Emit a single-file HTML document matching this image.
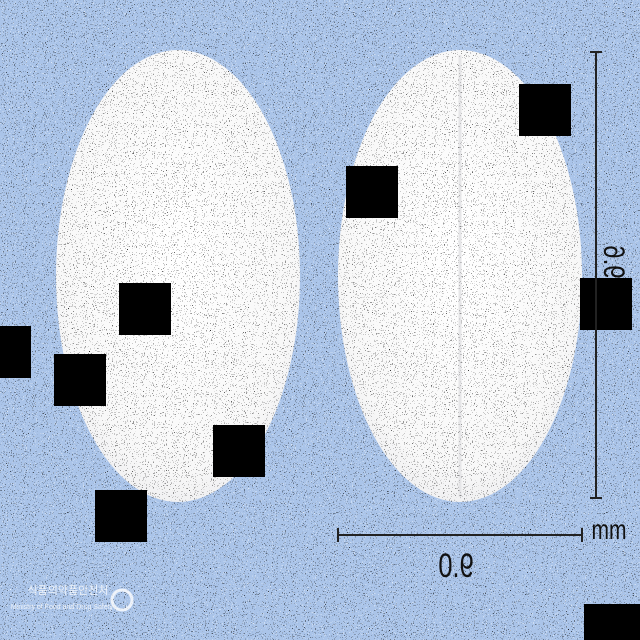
<!DOCTYPE html>
<html><head><meta charset="utf-8"><style>
html,body{margin:0;padding:0;width:640px;height:640px;overflow:hidden;background:#a9c3e8}
svg{display:block}
</style></head><body>
<svg width="640" height="640" viewBox="0 0 640 640">
<defs>
<filter id="spkD" x="0" y="0" width="100%" height="100%">
<feTurbulence type="fractalNoise" baseFrequency="0.95" numOctaves="1" seed="3"/>
<feColorMatrix values="0 0 0 0 0  0 0 0 0 0  0 0 0 0 0  40 0 0 0 -27"/>
</filter>
<filter id="spkL" x="0" y="0" width="100%" height="100%">
<feTurbulence type="fractalNoise" baseFrequency="0.95" numOctaves="1" seed="9"/>
<feColorMatrix values="0 0 0 0 1  0 0 0 0 1  0 0 0 0 1  40 0 0 0 -27"/>
</filter>
<clipPath id="pills"><ellipse cx="178" cy="276" rx="122" ry="226"/><ellipse cx="460" cy="276" rx="122" ry="226"/></clipPath>
<radialGradient id="pg" cx="50%" cy="45%" r="60%">
<stop offset="0" stop-color="#ffffff"/><stop offset="0.8" stop-color="#f8f8f8"/><stop offset="1" stop-color="#ececee"/>
</radialGradient>
</defs>
<rect width="640" height="640" fill="#aac4e9"/>
<rect width="640" height="640" filter="url(#spkL)" opacity="0.8"/>
<ellipse cx="178" cy="276" rx="122" ry="226" fill="url(#pg)"/>
<ellipse cx="460" cy="276" rx="122" ry="226" fill="url(#pg)"/>
<line x1="460" y1="55" x2="460" y2="497" stroke="#e6e6e8" stroke-width="3"/>
<rect width="640" height="640" filter="url(#spkD)" opacity="0.8"/>
<g fill="#000">
<rect x="0" y="326" width="31" height="52"/>
<rect x="119" y="283" width="52" height="52"/>
<rect x="54" y="354" width="52" height="52"/>
<rect x="213" y="425" width="52" height="52"/>
<rect x="95" y="490" width="52" height="52"/>
<rect x="346" y="166" width="52" height="52"/>
<rect x="519" y="84" width="52" height="52"/>
<rect x="580" y="278" width="52" height="52"/>
<rect x="584" y="604" width="56" height="36"/>
</g>
<g stroke="#222" stroke-width="2">
<line x1="596" y1="52" x2="596" y2="498"/>
<line x1="590" y1="52" x2="602" y2="52"/>
<line x1="590" y1="498" x2="602" y2="498"/>
<line x1="338" y1="535" x2="582" y2="535"/>
<line x1="338" y1="528" x2="338" y2="542"/>
<line x1="582" y1="528" x2="582" y2="542"/>
</g>
<text transform="translate(456,577) scale(-0.75,1)" text-anchor="middle" font-family="Liberation Sans, sans-serif" font-size="34" fill="#111">9.0</text>
<text transform="translate(604,262) rotate(90) scale(-0.8,1)" text-anchor="middle" font-family="Liberation Sans, sans-serif" font-size="30" fill="#111">9.6</text>
<text transform="translate(609,539) scale(0.75,1)" text-anchor="middle" font-family="Liberation Sans, sans-serif" font-size="28" fill="#111">mm</text>
<g opacity="0.8">
<circle cx="122" cy="600" r="10" fill="none" stroke="#fff" stroke-width="3"/>
<text x="68" y="594" text-anchor="middle" font-family="Liberation Sans, 'Noto Sans CJK KR', sans-serif" font-size="11" fill="#fff">식품의약품안전처</text>
<text x="62" y="609" text-anchor="middle" font-family="Liberation Sans, sans-serif" font-size="7" fill="#fff">Ministry of Food and Drug Safety</text>
</g>
</svg>
</body></html>
